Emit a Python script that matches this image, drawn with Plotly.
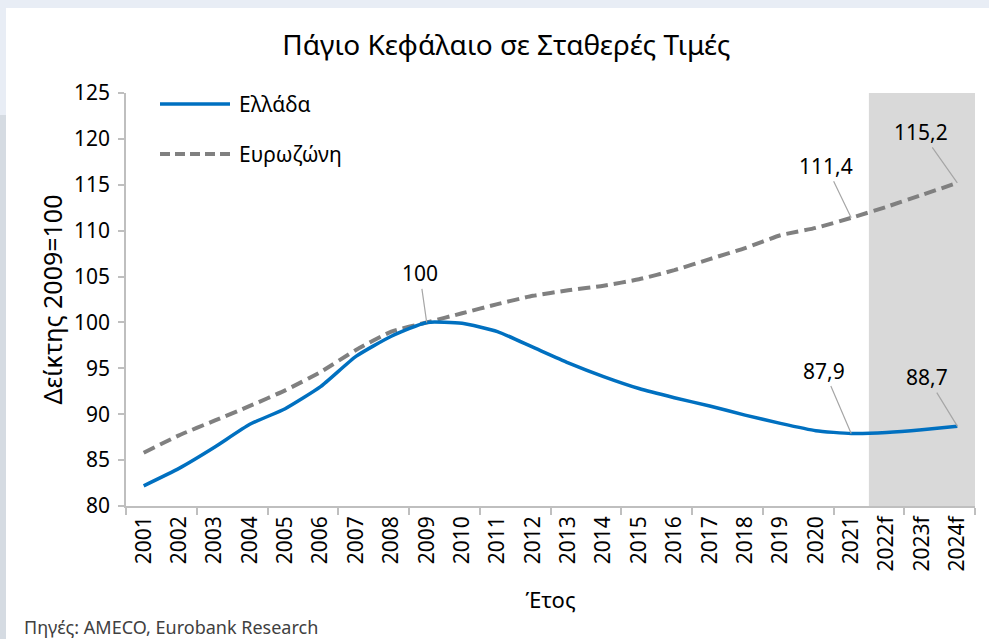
import plotly.graph_objects as go

# data
years = ["2001", "2002", "2003", "2004", "2005", "2006", "2007", "2008",
         "2009", "2010", "2011", "2012", "2013", "2014", "2015", "2016",
         "2017", "2018", "2019", "2020", "2021", "2022f", "2023f", "2024f"]
greece = [82.2, 84.1, 86.4, 88.9, 90.6, 93.0, 96.3, 98.5,
          100.0, 99.9, 99.0, 97.3, 95.6, 94.1, 92.8, 91.8,
          90.9, 89.9, 89.0, 88.2, 87.9, 88.0, 88.3, 88.7]
eurozone = [85.8, 87.7, 89.3, 90.9, 92.6, 94.6, 97.0, 99.0,
            100.0, 101.0, 102.0, 102.9, 103.5, 104.0, 104.7, 105.7,
            106.9, 108.1, 109.5, 110.3, 111.4, 112.6, 113.9, 115.2]
forecast_years = ["2022f", "2023f", "2024f"]

FONT = "Noto Sans"
BLUE = "#0070c0"
GREY = "#808080"
AXIS = "#bfbfbf"

x = list(range(len(years)))

# plot area in pixels (used to place the hand made legend and the page frame)
L, R, T, B = 126, 975, 93, 506
W, H = 989, 639


def px(v):
    return (v - L) / (R - L)


def py(v):
    return (B - v) / (B - T)


fig = go.Figure()

fig.add_trace(go.Scatter(x=x, y=eurozone, name="Ευρωζώνη", mode="lines",
                         line=dict(color=GREY, width=4, dash="12px,6px",
                                   shape="spline", smoothing=0.5),
                         showlegend=False))
fig.add_trace(go.Scatter(x=x, y=greece, name="Ελλάδα", mode="lines",
                         line=dict(color=BLUE, width=3.5,
                                   shape="spline", smoothing=0.5),
                         showlegend=False))

# forecast band
i0 = years.index(forecast_years[0])
i1 = years.index(forecast_years[-1])
fig.add_shape(type="rect", xref="x", yref="paper", x0=i0 - 0.5, x1=i1 + 0.5,
              y0=0, y1=1, fillcolor="#d9d9d9", line_width=0, layer="below")

# page frame strips from the screenshot
fig.add_shape(type="rect", xref="paper", yref="paper", x0=px(0), x1=px(W),
              y0=py(8), y1=py(0), fillcolor="#e8edf5", line_width=0)
fig.add_shape(type="rect", xref="paper", yref="paper", x0=px(0), x1=px(6),
              y0=py(115), y1=py(0), fillcolor="#e8edf5", line_width=0)
fig.add_shape(type="rect", xref="paper", yref="paper", x0=px(0), x1=px(6),
              y0=py(H), y1=py(115), fillcolor="#d5dbe2", line_width=0)

# legend drawn by hand (longer line samples than plotly's own)
for yy, name, col, dash in [(104, "Ελλάδα", BLUE, "solid"),
                            (154, "Ευρωζώνη", GREY, "dash")]:
    fig.add_shape(type="line", xref="paper", yref="paper",
                  x0=px(160), x1=px(230), y0=py(yy), y1=py(yy),
                  line=dict(color=col, width=4 if dash == "dash" else 3.5,
                            dash="10px,5px" if dash == "dash" else "solid"))
    fig.add_annotation(xref="paper", yref="paper", x=px(237), y=py(yy),
                       text=name, showarrow=False, xanchor="left",
                       yanchor="middle", font=dict(size=21, color="#000"))

# value labels with leader lines
labels = [("2009", eurozone, "100", -7, -49),
          ("2021", eurozone, "111,4", -25, -52),
          ("2024f", eurozone, "115,2", -36, -51),
          ("2021", greece, "87,9", -27, -63),
          ("2024f", greece, "88,7", -30, -49)]
for yr, series, txt, ax, ay in labels:
    i = years.index(yr)
    fig.add_annotation(x=i, y=series[i], text=txt, showarrow=True,
                       arrowhead=0, arrowwidth=1.2, arrowcolor="#a6a6a6",
                       ax=ax, ay=ay, font=dict(size=21, color="#000"))

# source note
fig.add_annotation(xref="paper", yref="paper", x=px(22), y=py(627),
                   text="Πηγές: AMECO, Eurobank Research", showarrow=False,
                   xanchor="left", yanchor="middle",
                   font=dict(size=18, color="#404040"))

fig.update_xaxes(range=[-0.5, len(years) - 0.5], tickvals=x, ticktext=years,
                 tickangle=-90, ticks="", showgrid=False, zeroline=False,
                 showline=True, linecolor=AXIS, linewidth=1.5,
                 tickfont=dict(size=21, color="#000"),
                 minor=dict(tickmode="linear", tick0=-0.5, dtick=2,
                            ticks="outside", ticklen=7, tickcolor=AXIS,
                            tickwidth=1.5, showgrid=False),
                 title=dict(text="Έτος", font=dict(size=22, color="#000"),
                            standoff=22))
fig.update_yaxes(range=[80, 125], dtick=5, ticks="outside", ticklen=6,
                 tickcolor=AXIS, tickwidth=1.5, showgrid=False, zeroline=False,
                 showline=True, linecolor=AXIS, linewidth=1.5,
                 tickfont=dict(size=21, color="#000"), ticklabelstandoff=4,
                 title=dict(text="Δείκτης 2009=100",
                            font=dict(size=25, color="#000"), standoff=4))

fig.update_layout(
    width=W, height=H,
    margin=dict(l=L, r=W - R, t=T, b=H - B),
    paper_bgcolor="white", plot_bgcolor="white",
    font=dict(family=FONT, color="#000"),
    title=dict(text="Πάγιο Κεφάλαιο σε Σταθερές Τιμές", x=0.512,
               xref="container", xanchor="center", y=1 - 45 / H,
               yref="container", yanchor="middle",
               font=dict(size=28, color="#000")),
)

# the page's default body margin would push the figure 8px down/right
fig.write_html("out.html", config={"displayModeBar": False},
               post_script="document.body.style.margin='0';")
